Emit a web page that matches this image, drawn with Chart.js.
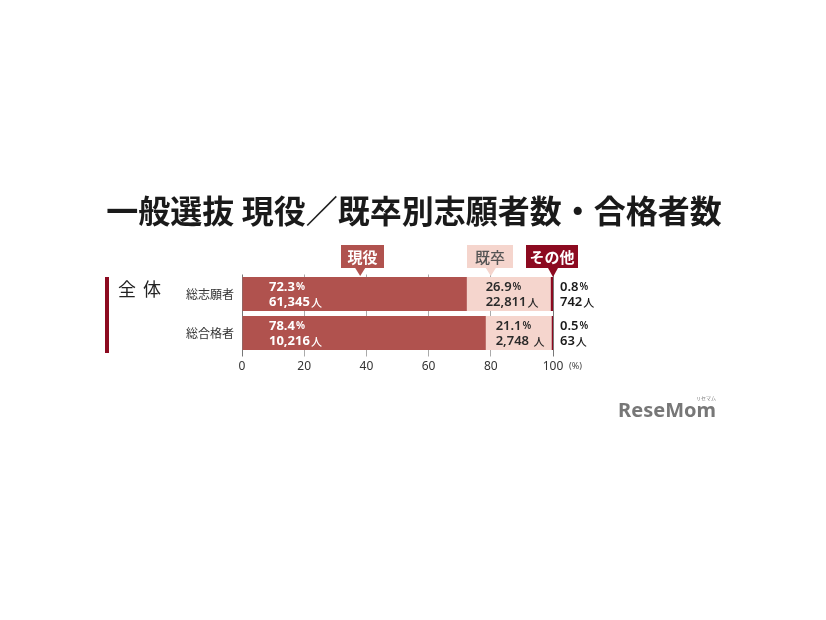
<!DOCTYPE html>
<html>
<head>
<meta charset="utf-8">
<script src="https://cdn.jsdelivr.net/npm/chart.js@4"></script>
<style>
  html, body { margin: 0; padding: 0; background: #fff; }
  #wrap { width: 826px; height: 620px; position: relative; }
</style>
</head>
<body>
<div id="wrap"><canvas id="c" width="826" height="620"></canvas></div>
<script>
// データ
const categories = ['総志願者', '総合格者'];
const seriesNames = ['現役', '既卒', 'その他'];
const genekiPct = [72.3, 78.4];
const kisotsuPct = [26.9, 21.1];
const otherPct = [0.8, 0.5];
const genekiNum = ['61,345', '10,216'];
const kisotsuNum = ['22,811', '2,748 '];
const otherNum = ['742', '63'];
const xTicks = [0, 20, 40, 60, 80, 100];

const colors = ['#b0524e', '#f5d5cd', '#8c0a20'];
const JP = '"Noto Sans CJK JP", "Noto Sans", sans-serif';
const NUM = '"Noto Sans", "DejaVu Sans", sans-serif';

// 数値 + 小さい単位 を描く
function drawValue(ctx, x, y, num, unit, color, weight) {
  ctx.fillStyle = color;
  ctx.textBaseline = 'middle';
  ctx.textAlign = 'left';
  ctx.font = weight + ' 13px ' + NUM;
  ctx.fillText(num, x, y);
  const w = ctx.measureText(num).width;
  ctx.font = (unit === '人' ? '500 11px ' + JP : weight + ' 10px ' + NUM);
  ctx.fillText(unit, x + w + 1, y + 0.5);
}

function callout(ctx, text, boxL, boxR, tipX, tipY, bg, fg, weight) {
  const top = 245, bot = 268;
  ctx.fillStyle = bg;
  ctx.fillRect(boxL, top, boxR - boxL, bot - top);
  ctx.beginPath();
  ctx.moveTo(tipX - 5, bot);
  ctx.lineTo(tipX + 5, bot);
  ctx.lineTo(tipX, tipY);
  ctx.closePath();
  ctx.fill();
  ctx.fillStyle = fg;
  ctx.font = weight + ' 15px ' + JP;
  ctx.textAlign = 'center';
  ctx.textBaseline = 'middle';
  ctx.fillText(text, (boxL + boxR) / 2, (top + bot) / 2 + 0.5);
}

const decor = {
  id: 'decor',
  afterDatasetsDraw(chart) {
    const ctx = chart.ctx;
    const xs = chart.scales.x, ys = chart.scales.y;
    ctx.save();
    // タイトル
    ctx.fillStyle = '#1a1a1a';
    ctx.font = 'bold 32px ' + JP;
    ctx.textAlign = 'center';
    ctx.textBaseline = 'middle';
    ctx.fillText('一般選抜 現役／既卒別志願者数・合格者数', 414, 211);

    // 左の帯と「全体」
    ctx.fillStyle = '#8c0a20';
    ctx.fillRect(105, 277, 4, 76);
    ctx.fillStyle = '#222';
    ctx.font = '18px ' + JP;
    ctx.textAlign = 'left';
    ctx.fillText('全', 118, 289);
    ctx.fillText('体', 143, 289);

    // 凡例の吹き出し
    callout(ctx, seriesNames[0], 341, 384, xs.getPixelForValue(38), 276, colors[0], '#fff', 'bold');
    callout(ctx, seriesNames[1], 467, 513, xs.getPixelForValue(80), 276, colors[1], '#555', '500');
    callout(ctx, seriesNames[2], 526, 578, xs.getPixelForValue(100), 277, colors[2], '#fff', 'bold');

    // 値ラベル
    categories.forEach((c, i) => {
      const yc = ys.getPixelForValue(i);
      const x0 = xs.getPixelForValue(0);
      drawValue(ctx, x0 + 27, yc - 7, genekiPct[i].toFixed(1), '%', '#fff', 'bold');
      drawValue(ctx, x0 + 27, yc + 8, genekiNum[i], '人', '#fff', 'bold');
      const s = xs.getPixelForValue(genekiPct[i]);
      const e = xs.getPixelForValue(genekiPct[i] + kisotsuPct[i]);
      const kx = (s + e) / 2 - 23;
      drawValue(ctx, kx, yc - 7, kisotsuPct[i].toFixed(1), '%', '#2a2a2a', '600');
      drawValue(ctx, kx, yc + 8, kisotsuNum[i], '人', '#2a2a2a', '600');
      const ox = xs.getPixelForValue(100) + 7;
      drawValue(ctx, ox, yc - 7, otherPct[i].toFixed(1), '%', '#1a1a1a', '600');
      drawValue(ctx, ox, yc + 8, otherNum[i], '人', '#1a1a1a', '600');
    });

    // (%)
    ctx.fillStyle = '#444';
    ctx.font = '9px ' + NUM;
    ctx.textAlign = 'left';
    ctx.textBaseline = 'middle';
    ctx.fillText('(%)', xs.getPixelForValue(100) + 16, 366);

    // ロゴ
    ctx.fillStyle = '#777';
    ctx.font = 'bold 20px ' + NUM;
    ctx.textAlign = 'right';
    ctx.fillText('ReseMom', 716, 411);
    ctx.font = '5px ' + JP;
    ctx.fillText('リセマム', 716, 398);
    ctx.restore();
  }
};

new Chart(document.getElementById('c'), {
  type: 'bar',
  data: {
    labels: categories,
    datasets: [
      { label: seriesNames[0], data: genekiPct, backgroundColor: colors[0] },
      { label: seriesNames[1], data: kisotsuPct, backgroundColor: colors[1] },
      { label: seriesNames[2], data: otherPct, backgroundColor: colors[2] }
    ].map(d => Object.assign(d, { barPercentage: 0.87, categoryPercentage: 1, borderWidth: 0 }))
  },
  options: {
    indexAxis: 'y',
    responsive: false,
    animation: false,
    events: [],
    layout: { padding: { left: 0, top: 274.5, right: 273, bottom: 243.5 } },
    plugins: { legend: { display: false }, tooltip: { enabled: false } },
    scales: {
      x: {
        stacked: true,
        min: 0, max: 100,
        afterBuildTicks(scale) { scale.ticks = xTicks.map(v => ({ value: v })); },
        afterFit(scale) { scale.height = 24; },
        border: { display: false },
        grid: {
          color: ctx => (ctx.tick && (ctx.tick.value === 0 || ctx.tick.value === 100)) ? '#777' : '#aaa',
          lineWidth: 1,
          tickLength: 4
        },
        ticks: { color: '#333', font: { size: 12, family: NUM }, padding: 3, maxRotation: 0 }
      },
      y: {
        stacked: true,
        afterFit(scale) { scale.width = 242; },
        border: { display: false },
        grid: { display: false },
        ticks: { color: '#333', font: { size: 12, family: JP }, padding: 0 }
      }
    }
  },
  plugins: [decor]
});
</script>
</body>
</html>
